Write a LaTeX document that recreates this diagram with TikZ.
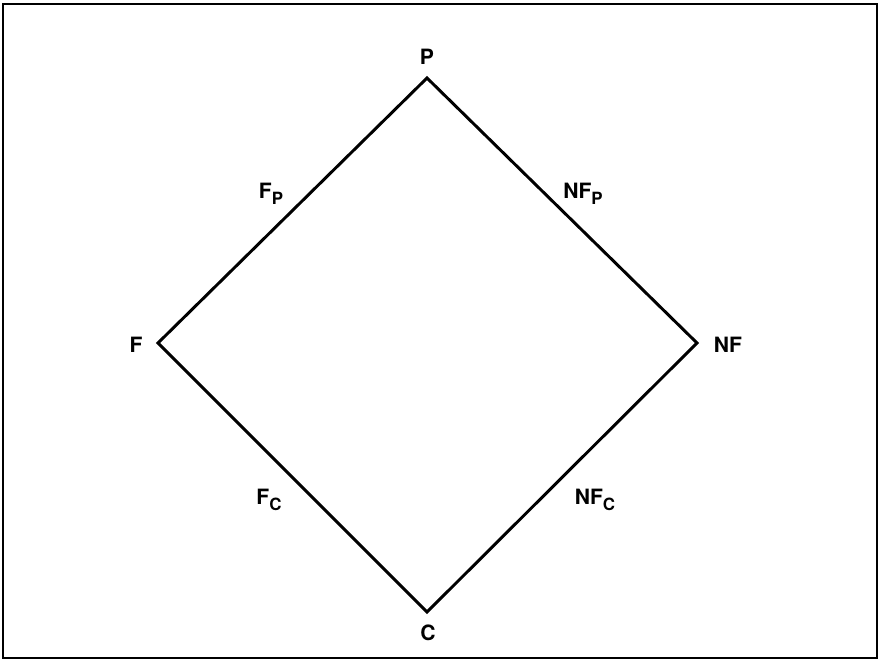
\documentclass[tikz,border=0pt]{standalone}
\usepackage{fontspec}
\setmainfont{TeX Gyre Heros}
\usetikzlibrary{positioning}

\newcommand{\lowsub}[1]{\raisebox{-4pt}{\fontsize{12}{12}\selectfont #1}}

\begin{document}
\begin{tikzpicture}[
    x=0.025cm, y=-0.025cm,
    vertex/.style={font=\fontsize{15}{15}\selectfont\bfseries, inner sep=0pt},
    edgelabel/.style={font=\fontsize{15}{15}\selectfont\bfseries, inner sep=0pt},
    side/.style={line width=2.1pt, line join=miter},
    frame/.style={line width=1.5pt}
]

% Outer frame
\draw[frame] (3,4) rectangle (877,658);
\useasboundingbox (0,0) rectangle (880,661);

% Corners of the diamond
\coordinate (p) at (427,78);
\coordinate (f) at (158,343);
\coordinate (nf) at (697,343);
\coordinate (c) at (427,612);

% Corner labels
\node[vertex] (plabel) at (427,57) {P};
\node[vertex] (flabel) at (136,345) {F};
\node[vertex] (nflabel) at (728,345) {NF};
\node[vertex] (clabel) at (428,633) {C};

% Sides
\draw[side] (p) -- (f) -- (c) -- (nf) -- cycle;

% Side labels
\node[edgelabel] (fp) at (271,194) {F\lowsub{P}};
\node[edgelabel] (nfp) at (583,194) {NF\lowsub{P}};
\node[edgelabel] (fc) at (269,500) {F\lowsub{C}};
\node[edgelabel] (nfc) at (595,500) {NF\lowsub{C}};

\end{tikzpicture}
\end{document}
